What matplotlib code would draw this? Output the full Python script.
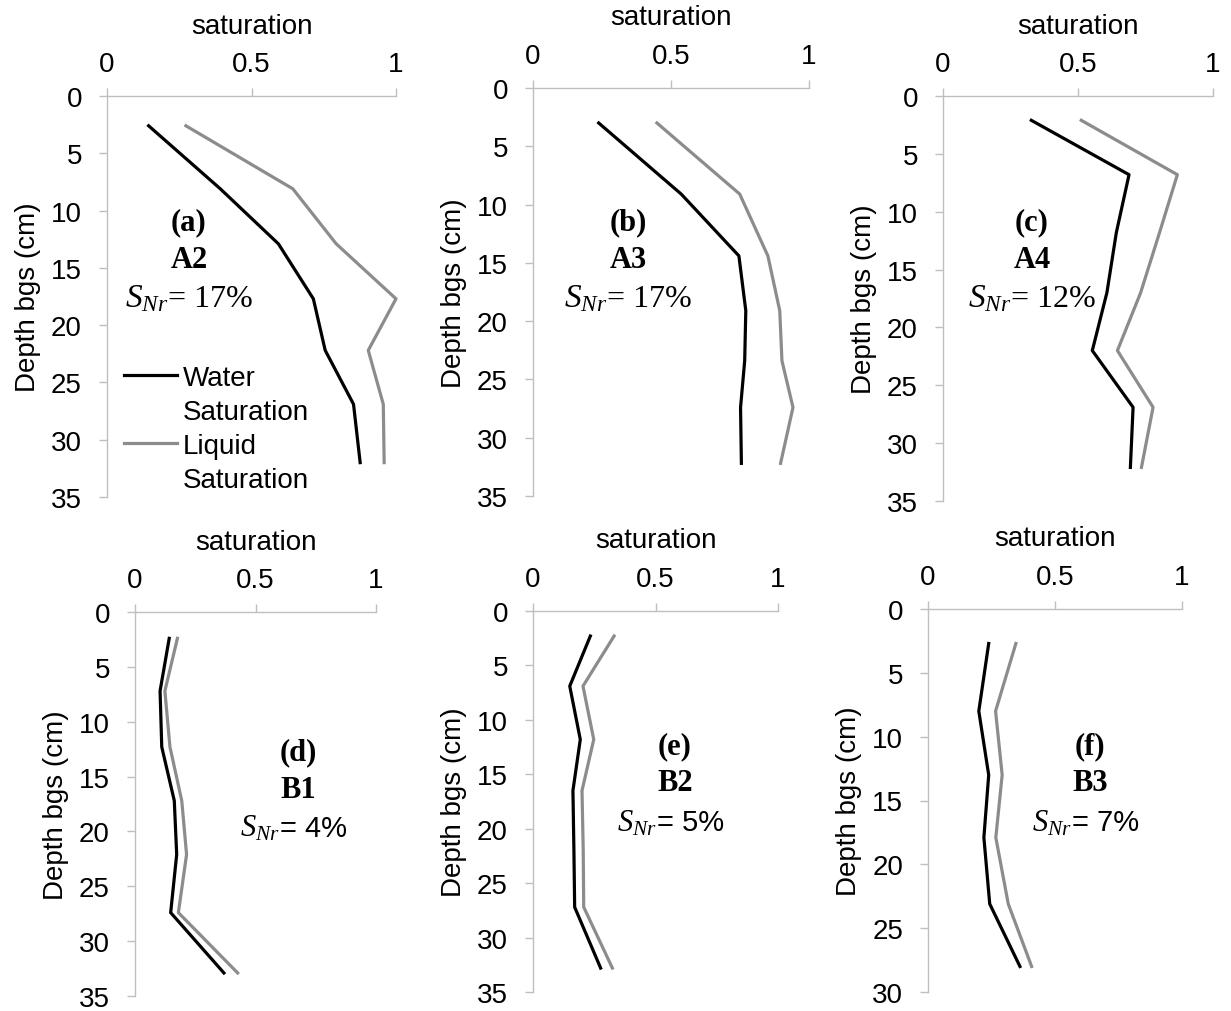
import numpy as np
import matplotlib
matplotlib.use("Agg")
import matplotlib.pyplot as plt
from matplotlib.lines import Line2D

plt.rcParams["font.family"] = ["Liberation Sans", "DejaVu Sans"]
plt.rcParams["mathtext.fontset"] = "custom"
plt.rcParams["mathtext.it"] = "Liberation Serif:italic"
plt.rcParams["mathtext.rm"] = "Liberation Serif"

# depth below ground surface (cm) and saturation profiles per column
depth_a = [2.6, 8.1, 12.9, 17.7, 22.2, 26.9, 32.0]
water_a = [0.144, 0.392, 0.593, 0.714, 0.755, 0.853, 0.876]
liquid_a = [0.273, 0.643, 0.793, 1.000, 0.904, 0.956, 0.959]

depth_b = [3.0, 9.1, 14.4, 19.1, 23.4, 27.4, 32.2]
water_b = [0.238, 0.537, 0.746, 0.771, 0.767, 0.752, 0.755]
liquid_b = [0.449, 0.749, 0.851, 0.894, 0.902, 0.942, 0.897]

depth_c = [2.1, 6.8, 11.8, 17.0, 22.0, 26.9, 32.1]
water_c = [0.327, 0.689, 0.642, 0.607, 0.553, 0.704, 0.694]
liquid_c = [0.512, 0.868, 0.802, 0.732, 0.646, 0.778, 0.735]

depth_d = [2.4, 7.2, 12.3, 17.2, 22.1, 27.4, 32.9]
water_d = [0.142, 0.104, 0.111, 0.163, 0.173, 0.148, 0.369]
liquid_d = [0.176, 0.124, 0.145, 0.194, 0.214, 0.180, 0.426]

depth_e = [2.3, 6.9, 11.8, 16.5, 22.0, 27.2, 32.8]
water_e = [0.234, 0.150, 0.193, 0.163, 0.167, 0.170, 0.276]
liquid_e = [0.331, 0.204, 0.248, 0.200, 0.205, 0.207, 0.324]

depth_f = [2.7, 8.0, 13.0, 17.9, 23.1, 28.0]
water_f = [0.239, 0.200, 0.239, 0.220, 0.243, 0.362]
liquid_f = [0.346, 0.266, 0.292, 0.267, 0.316, 0.408]

panel_tags = ["(a)", "(b)", "(c)", "(d)", "(e)", "(f)"]
column_names = ["A2", "A3", "A4", "B1", "B2", "B3"]
snr_values = ["17%", "17%", "12%", "4%", "5%", "7%"]
depth_max = [35, 35, 35, 35, 35, 30]

W, H = 1231, 1012
# axes boxes in pixels: left, top, right, bottom
boxes_px = [
    (107, 97, 396, 498),
    (533, 89, 809, 497),
    (943, 97, 1213, 502),
    (135, 613, 376, 997),
    (533, 612, 778, 993),
    (928, 610, 1182, 993),
]
# centre of the annotation block (x, first-line y), pixels
notes_px = [
    (189, 223), (628, 223), (1032, 223),
    (298, 753), (675, 747), (1090, 747),
]

AXIS_GREY = "#bfbfbf"
LIQ_GREY = "#8c8c8c"

fig = plt.figure(figsize=(W / 100, H / 100), dpi=100)

profiles = [
    (depth_a, water_a, liquid_a),
    (depth_b, water_b, liquid_b),
    (depth_c, water_c, liquid_c),
    (depth_d, water_d, liquid_d),
    (depth_e, water_e, liquid_e),
    (depth_f, water_f, liquid_f),
]

for i, (depth, water, liquid) in enumerate(profiles):
    l, t, r, b = boxes_px[i]
    ax = fig.add_axes([l / W, 1 - b / H, (r - l) / W, (b - t) / H])

    ax.plot(water, depth, color="black", lw=2.3, clip_on=False, zorder=3)
    ax.plot(liquid, depth, color=LIQ_GREY, lw=2.3, clip_on=False, zorder=3)

    ax.set_xlim(0, 1)
    ax.set_ylim(depth_max[i], 0)
    ax.set_xticks([0, 0.5, 1])
    ax.set_xticklabels(["0", "0.5", "1"])
    ax.set_yticks(np.arange(0, depth_max[i] + 1, 5))

    ax.xaxis.tick_top()
    ax.xaxis.set_label_position("top")
    ax.set_xlabel("saturation", fontsize=20, labelpad=13)
    ax.set_ylabel("Depth bgs (cm)", fontsize=20, labelpad=7)

    for side in ["right", "bottom"]:
        ax.spines[side].set_visible(False)
    for side in ["top", "left"]:
        ax.spines[side].set_color(AXIS_GREY)
        ax.spines[side].set_linewidth(1.0)

    ax.tick_params(axis="both", direction="out", length=6, width=1.0,
                   color=AXIS_GREY, labelsize=20, labelcolor="black")
    ax.tick_params(axis="x", pad=8)
    ax.tick_params(axis="y", pad=12)

    # panel tag, column name and residual NAPL saturation
    nx, ny = notes_px[i]
    fig.text(nx / W, 1 - ny / H, panel_tags[i], ha="center", va="center",
             fontsize=22, fontweight="bold", family="Liberation Serif")
    fig.text(nx / W, 1 - (ny + 37) / H, column_names[i], ha="center", va="center",
             fontsize=22, fontweight="bold", family="Liberation Serif")
    if i < 3:
        tail_font, tail_size, split = "Liberation Serif", 23, nx - 21
    else:
        tail_font, tail_size, split = "Liberation Sans", 21, nx - 18
    base_y = 1 - (ny + 84) / H
    fig.text(split / W, base_y, r"$S_{Nr}$", ha="right", va="baseline",
             fontsize=tail_size + 1)
    fig.text(split / W, base_y, "= " + snr_values[i], ha="left", va="baseline",
             fontsize=tail_size, family=tail_font)

    if i == 0:
        blank = Line2D([], [], color="none")
        handles = [
            Line2D([], [], color="black", lw=2.3), blank,
            Line2D([], [], color=LIQ_GREY, lw=2.3), blank,
        ]
        labels = ["Water", "Saturation", "Liquid", "Saturation"]
        ax.legend(handles, labels, loc="upper left", bbox_to_anchor=(0.059, 0.33),
                  frameon=False, fontsize=20, handlelength=1.9, handletextpad=0.2,
                  labelspacing=0.29, borderpad=0, borderaxespad=0)

fig.savefig("out.png", dpi=100)
